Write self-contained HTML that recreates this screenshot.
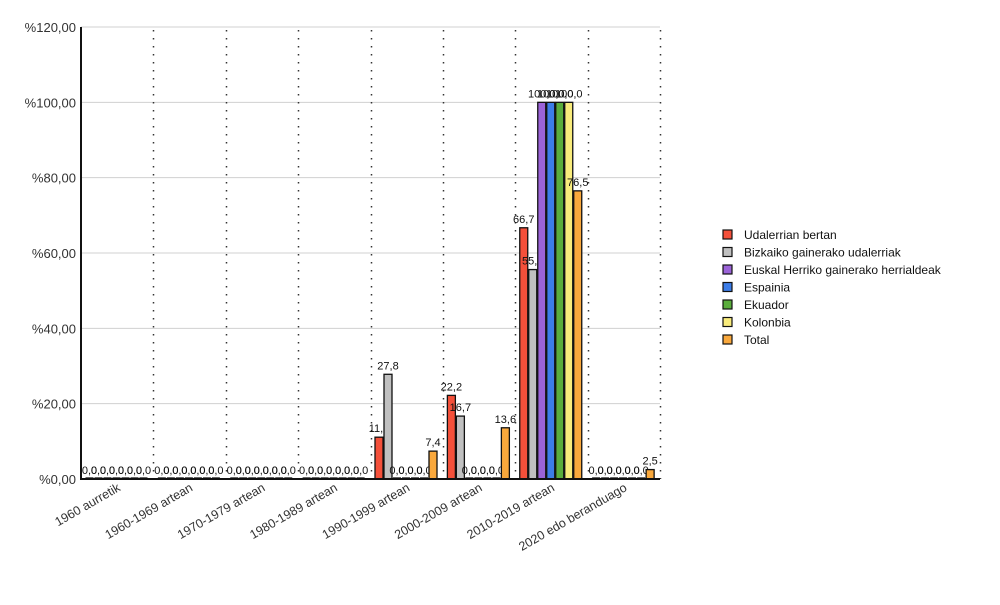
<!DOCTYPE html>
<html><head><meta charset="utf-8"><style>
body{margin:0;background:#fff;width:1000px;height:600px;overflow:hidden}
svg{font-family:"Liberation Sans",sans-serif}
</style></head><body>
<svg id="s" width="1000" height="600" xmlns="http://www.w3.org/2000/svg"></svg>
<script>
const s=document.getElementById('s');
let h='';
const X0=81,X1=660,Y0=479,SC=452/120,CW=(X1-X0)/8;
for(let i=1;i<=6;i++){const y=Y0-i*20*SC;h+=`<line x1="${X0}" x2="${X1}" y1="${y}" y2="${y}" stroke="#d0d0d0" stroke-width="1"/>`;}
for(let i=0;i<=6;i++){const y=Y0-i*20*SC;h+=`<text x="76" y="${y+5}" text-anchor="end" font-size="13" fill="#333">%${i*20},00</text>`;}
for(let i=1;i<=8;i++){const x=Math.round(X0+i*CW)+0.5;h+=`<line x1="${x}" x2="${x}" y1="30" y2="${Y0}" stroke="#333" stroke-width="1.5" stroke-dasharray="1.5,6.5"/>`;}
const cols=['#f4503a','#c0c0c0','#9b63d8','#3c7de8','#5aad3c','#f9ec7c','#f9a83c'];
const cats=['1960 aurretik','1960-1969 artean','1970-1979 artean','1980-1989 artean','1990-1999 artean','2000-2009 artean','2010-2019 artean','2020 edo beranduago'];
const data=[[0,0,0,0,0,0,0],[0,0,0,0,0,0,0],[0,0,0,0,0,0,0],[0,0,0,0,0,0,0],[11.1,27.8,0,0,0,0,7.4],[22.2,16.7,0,0,0,0,13.6],[66.7,55.6,100,100,100,100,76.5],[0,0,0,0,0,0,2.5]];
data.forEach((d,c)=>{
 const cx=X0+c*CW;
 d.forEach((v,k)=>{
  const x=cx+4.5+k*9,hh=v*SC,y=Y0-hh;
  if(v>0)h+=`<rect x="${x}" y="${y}" width="8" height="${hh}" fill="${cols[k]}" stroke="#111" stroke-width="1.3"/>`;
  else h+=`<line x1="${x}" x2="${x+8}" y1="${Y0-1}" y2="${Y0-1}" stroke="#111" stroke-width="1.3"/>`;
  h+=`<text x="${x+4}" y="${y-5}" text-anchor="middle" font-size="11" fill="#111">${v.toFixed(1).replace('.',',')}</text>`;
 });
 const tx=cx+CW/2+4,ty=490;
 h+=`<text x="${tx}" y="${ty}" text-anchor="end" font-size="12.5" fill="#333" transform="rotate(-30 ${tx} ${ty})">${cats[c]}</text>`;
});
h+=`<line x1="${X0}" x2="${X0}" y1="27" y2="${Y0+1}" stroke="#111" stroke-width="2"/>`;
h+=`<line x1="${X0}" x2="${X1}" y1="${Y0}" y2="${Y0}" stroke="#111" stroke-width="2"/>`;
const leg=['Udalerrian bertan','Bizkaiko gainerako udalerriak','Euskal Herriko gainerako herrialdeak','Espainia','Ekuador','Kolonbia','Total'];
leg.forEach((t,i)=>{const y=230+i*17.5;
 h+=`<rect x="723" y="${y}" width="9" height="9" fill="${cols[i]}" stroke="#111" stroke-width="1.2"/>`;
 h+=`<text x="744" y="${y+9}" font-size="12" fill="#111">${t}</text>`;});
s.innerHTML=h;
</script>
</body></html>
